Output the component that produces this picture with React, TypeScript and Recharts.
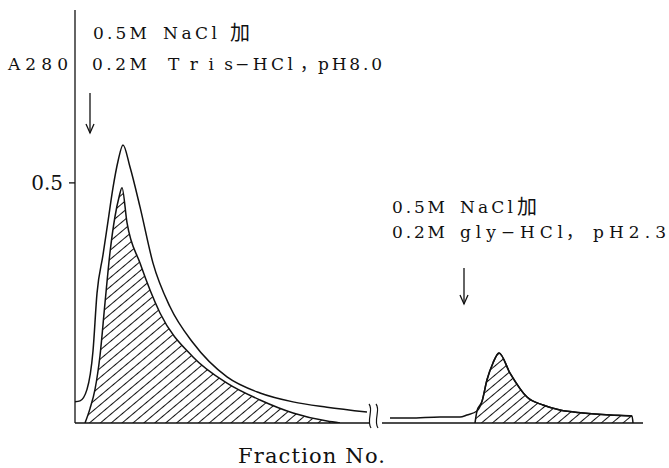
import { ComposedChart, Line, Area, XAxis, YAxis, ReferenceLine } from 'recharts'

// fraction positions (x) and A280 readings
const outerFractions = [0, 0.5, 1.2, 1.8, 2.2, 2.8, 3.3, 3.8, 4.3, 4.8, 5.5, 6.5, 7.8, 9.5, 11.8, 15.2, 18.5, 21.8, 25.2, 29.2]
const outerValues = [0.044, 0.046, 0.07, 0.15, 0.27, 0.35, 0.42, 0.49, 0.545, 0.579, 0.533, 0.45, 0.333, 0.242, 0.167, 0.096, 0.0625, 0.044, 0.033, 0.023]

const outer2Fractions = [31.5, 33.5, 36.5, 38.5, 39.2, 40.2, 40.7, 41.2, 41.8, 42.4, 43.5, 45.2, 46.8, 48.5, 50.8, 53.5, 55.7]
const outer2Values = [0.0104, 0.0104, 0.0125, 0.0125, 0.0167, 0.025, 0.045, 0.09, 0.125, 0.146, 0.104, 0.054, 0.0375, 0.027, 0.021, 0.0167, 0.0146]

const innerFractions = [1.0, 1.5, 2.0, 2.5, 3.0, 3.5, 4.0, 4.4, 4.7, 5.2, 6.5, 8.5, 11.8, 15.2, 18.5, 21.8, 25.2, 26.5]
const innerValues = [0, 0.03, 0.07, 0.14, 0.25, 0.355, 0.43, 0.47, 0.49, 0.417, 0.333, 0.229, 0.1375, 0.083, 0.048, 0.021, 0.004, 0]

const inner2Fractions = [40.0, 40.2, 40.7, 41.2, 41.8, 42.4, 43.5, 45.2, 46.8, 48.5, 50.8, 53.5, 55.7, 55.8]
const inner2Values = [0, 0.025, 0.045, 0.09, 0.125, 0.146, 0.104, 0.054, 0.0375, 0.027, 0.021, 0.0167, 0.0146, 0]

const yTicks = [0.5]

const zip = (xs: number[], ys: number[]) => xs.map((f, i) => ({ f, v: ys[i] as number | null }))

const outerData = [...zip(outerFractions, outerValues), { f: 30.3, v: null }, ...zip(outer2Fractions, outer2Values)]
const innerData = [...zip(innerFractions, innerValues), { f: 33, v: null }, ...zip(inner2Fractions, inner2Values)]

const ink = '#111'
const serif = '"DejaVu Serif", "Liberation Serif", serif'
const cjk = '"Noto Sans CJK SC", sans-serif'

function Overlay() {
  const t = { fontFamily: serif, fontSize: 17, fill: ink }
  return (
    <svg width={669} height={468} style={{ position: 'absolute', left: 0, top: 0, pointerEvents: 'none' }}>
      <text {...t} x={8} y={70} textLength={60} lengthAdjust="spacing">A280</text>

      <text {...t} x={93} y={39} textLength={54} lengthAdjust="spacing">0.5M</text>
      <text {...t} x={163} y={39} textLength={54} lengthAdjust="spacing">NaCl</text>
      <text {...t} x={230} y={40} fontFamily={cjk} fontSize={20}>加</text>
      <text {...t} x={92} y={70} textLength={55} lengthAdjust="spacing">0.2M</text>
      <text {...t} x={168} y={70} textLength={65} lengthAdjust="spacing">Tris</text>
      <text {...t} x={235} y={70} textLength={58} lengthAdjust="spacing">−HCl</text>
      <text {...t} x={300} y={70} fontFamily={cjk}>，</text>
      <text {...t} x={318} y={70} textLength={64} lengthAdjust="spacing">pH8.0</text>

      <text {...t} x={392} y={213} textLength={53} lengthAdjust="spacing">0.5M</text>
      <text {...t} x={460} y={213} textLength={53} lengthAdjust="spacing">NaCl</text>
      <text {...t} x={517} y={214} fontFamily={cjk} fontSize={20}>加</text>
      <text {...t} x={392} y={238} textLength={53} lengthAdjust="spacing">0.2M</text>
      <text {...t} x={460} y={238} textLength={103} lengthAdjust="spacing">gly−HCl</text>
      <text {...t} x={566} y={238} fontFamily={cjk}>，</text>
      <text {...t} x={593} y={238} textLength={73} lengthAdjust="spacing">pH2.3</text>

      <text x={238} y={463} fontFamily={serif} fontSize={21} fill={ink} textLength={147} lengthAdjust="spacing">
        Fraction No.
      </text>

      {/* elution arrows */}
      <line x1={90} y1={93} x2={90} y2={133} stroke={ink} strokeWidth={1.3} />
      <path d="M86,124 L90,133 L94,124" fill="none" stroke={ink} strokeWidth={1.3} />
      <line x1={464} y1={268} x2={464} y2={304} stroke={ink} strokeWidth={1.3} />
      <path d="M460,295 L464,304 L468,295" fill="none" stroke={ink} strokeWidth={1.3} />

      {/* axis break */}
      <path d="M369,404 C374,410 366,420 371,428" fill="none" stroke={ink} strokeWidth={1.2} />
      <path d="M376,404 C381,410 373,420 378,428" fill="none" stroke={ink} strokeWidth={1.2} />
    </svg>
  )
}

export default function App() {
  return (
    <div style={{ position: 'absolute', left: 0, top: 0, width: 669, height: 468, background: '#fff' }}>
      <ComposedChart width={669} height={468} margin={{ top: 10, right: 9, bottom: 45, left: 0 }}>
        <defs>
          <pattern id="hatch" width="7" height="7" patternUnits="userSpaceOnUse" patternTransform="rotate(50)">
            <line x1="3.5" y1="0" x2="3.5" y2="7" stroke={ink} strokeWidth="1" />
          </pattern>
        </defs>
        <XAxis type="number" dataKey="f" domain={[0, 58.5]} allowDataOverflow hide />
        <YAxis
          type="number"
          domain={[0, 0.86]}
          allowDataOverflow
          ticks={yTicks}
          tickFormatter={() => '0.5'}
          width={75}
          tickSize={6}
          tickMargin={6}
          axisLine={{ stroke: ink, strokeWidth: 1.3 }}
          tickLine={{ stroke: ink, strokeWidth: 1.3 }}
          tick={{ fill: ink, fontSize: 20, fontFamily: serif }}
        />
        <ReferenceLine segment={[{ x: 0, y: 0 }, { x: 29.5, y: 0 }]} stroke={ink} strokeWidth={1.3} />
        <ReferenceLine segment={[{ x: 30.7, y: 0 }, { x: 56.8, y: 0 }]} stroke={ink} strokeWidth={1.3} />
        <Area
          data={innerData}
          dataKey="v"
          type="monotone"
          stroke={ink}
          strokeWidth={1.5}
          fill="url(#hatch)"
          fillOpacity={1}
          connectNulls={false}
          isAnimationActive={false}
          dot={false}
          activeDot={false}
        />
        <Line
          data={outerData}
          dataKey="v"
          type="monotone"
          stroke={ink}
          strokeWidth={1.5}
          connectNulls={false}
          isAnimationActive={false}
          dot={false}
          activeDot={false}
        />
      </ComposedChart>
      <Overlay />
    </div>
  )
}
